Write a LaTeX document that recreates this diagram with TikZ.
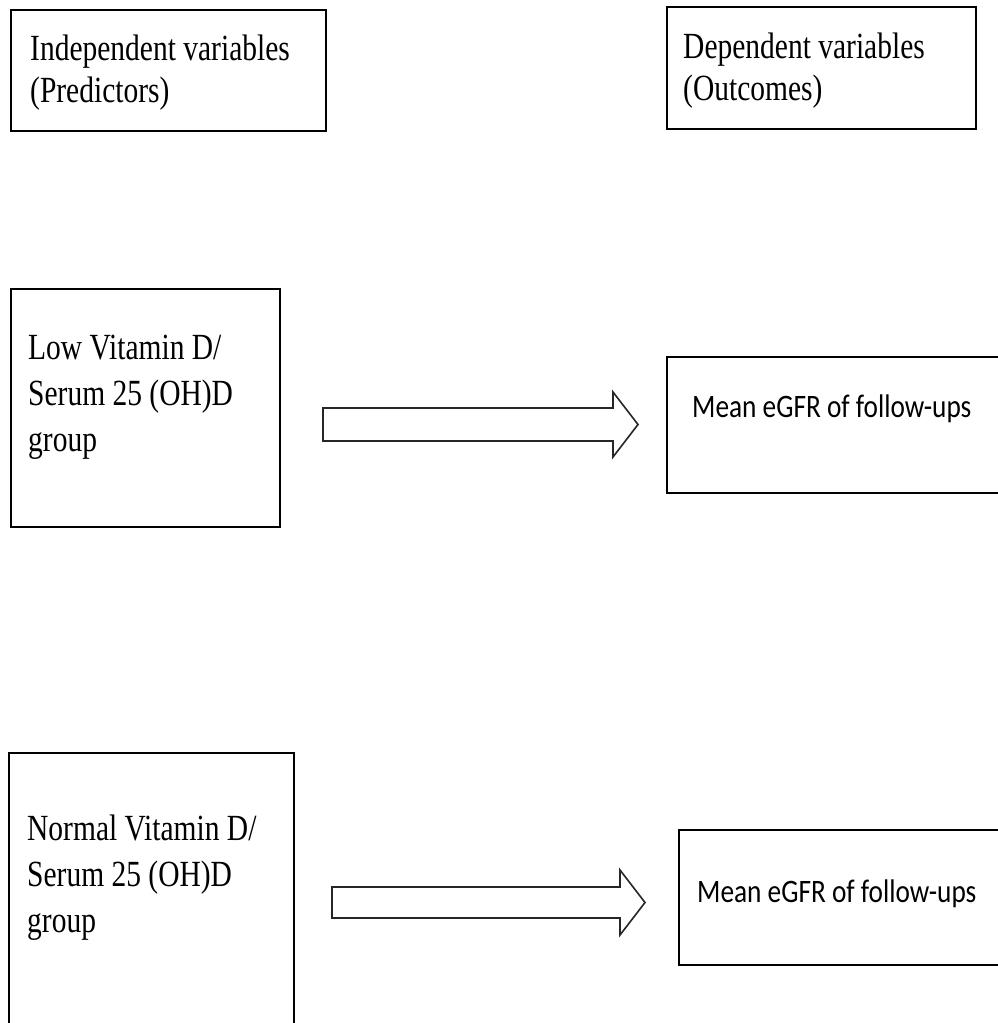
\documentclass[tikz,border=0pt]{standalone}
\usepackage{fontspec}
\setmainfont{Liberation Serif}
\newfontfamily\calibrifont{Carlito}
\usetikzlibrary{positioning}
\tikzset{
  box/.style={draw=black, line width=1.6pt, fill=none, inner sep=0pt, anchor=north west},
  txt/.style={anchor=base west, inner sep=0pt, text=black},
  blockarrow/.style={draw=black!85, line width=1.6pt, line join=miter, fill=white}
}
\newcommand{\serifblock}[2]{\scalebox{1}[1.25]{\fontsize{29.5}{#1}\selectfont\begin{tabular}[t]{@{}l@{}}#2\end{tabular}}}
\newcommand{\sansline}[1]{\scalebox{1}[1.2]{\calibrifont\fontsize{27.3}{32}\selectfont #1}}
\begin{document}
\begin{tikzpicture}[x=1pt,y=-1pt]
\useasboundingbox (0,0) rectangle (998,1023);
\clip (0,0) rectangle (998,1023);
% boxes
\node[box, minimum width=315pt, minimum height=121pt] (indep) at (10,9) {};
\node[box, minimum width=309pt, minimum height=122pt] (dep) at (666,6) {};
\node[box, minimum width=269pt, minimum height=238pt] (low) at (10,288) {};
\node[box, minimum width=344pt, minimum height=136pt] (mean1) at (666,356) {};
\node[box, minimum width=285pt, minimum height=288pt] (normal) at (8,752) {};
\node[box, minimum width=332pt, minimum height=135pt] (mean2) at (678,829) {};
% texts
\node[txt] (indeptext) at (30,60) {\serifblock{34}{Independent variables\\(Predictors)}};
\node[txt] (deptext) at (683,58) {\serifblock{34}{Dependent variables\\(Outcomes)}};
\node[txt] (lowtext) at (28,359) {\serifblock{37}{Low Vitamin D/\\Serum 25 (OH)D\\group}};
\node[txt] (normaltext) at (27,840) {\serifblock{37}{Normal Vitamin D/\\Serum 25 (OH)D\\group}};
\node[txt] (mean1text) at (692,417) {\sansline{Mean eGFR of follow-ups}};
\node[txt] (mean2text) at (697,902) {\sansline{Mean eGFR of follow-ups}};
% block arrows
\coordinate (a1tail) at (323,424.5);
\coordinate (a2tail) at (332,902.5);
\draw[blockarrow] (a1tail) ++(0,-16.5) -- ++(290,0) -- ++(0,-16) -- ++(25,32.5) -- ++(-25,32.5) -- ++(0,-16) -- ++(-290,0) -- cycle;
\draw[blockarrow] (a2tail) ++(0,-15.5) -- ++(288,0) -- ++(0,-17) -- ++(25,32.5) -- ++(-25,32.5) -- ++(0,-17) -- ++(-288,0) -- cycle;
\end{tikzpicture}
\end{document}
